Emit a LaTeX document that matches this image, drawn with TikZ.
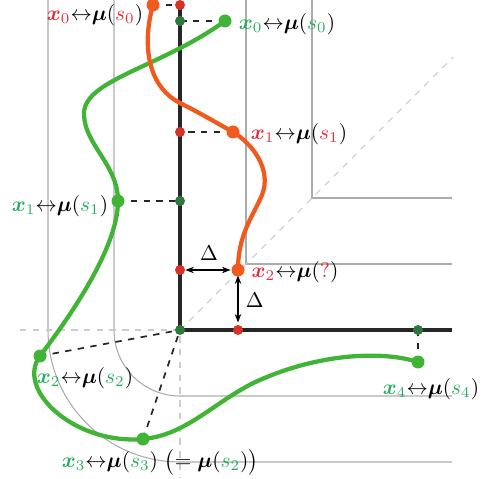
\documentclass[tikz,border=0pt]{standalone}
\usepackage{amsmath,amssymb,bm}
\usepackage{tikz}
\usetikzlibrary{arrows.meta,calc}
\definecolor{curveorange}{RGB}{240,90,30}
\definecolor{curvegreen}{RGB}{65,180,55}
\definecolor{dotred}{RGB}{215,50,35}
\definecolor{dotgreen}{RGB}{45,120,60}
\definecolor{textred}{RGB}{228,45,60}
\definecolor{textgreen}{RGB}{40,172,95}
\newcommand{\pairlbl}[3]{$\textcolor{#1}{\bm{x}_{#2}}{\leftrightarrow}\bm{\mu}(\textcolor{#1}{#3})$}

\begin{document}
\begin{tikzpicture}[x=0.0165cm,y=-0.0165cm,
  contour/.style={gray!65,line width=0.5pt},
  guide/.style={gray!40,dashed,line width=0.5pt},
  link/.style={black!85,dashed,line width=0.8pt},
  axis/.style={black!85,line width=2pt},
  curve/.style={line width=2pt,line cap=round},
  gap/.style={{Stealth[length=4pt]}-{Stealth[length=4pt]},line width=0.7pt,shorten <=2.5pt,shorten >=3.5pt}]
\useasboundingbox (0,0) rectangle (482,478);
% offset contours of the feasible set
\foreach \r in {66,132} {
  \draw[contour] (180-\r,0)--(180-\r,330) arc[start angle=180,end angle=90,radius=\r]--(452,330+\r);
  \draw[contour] (180+\r,0)--(180+\r,330-\r)--(452,330-\r);
}
\coordinate (O) at (180,330);
\draw[guide] (20,330)--(O)--(180,478);
\draw[guide] (O)--(453,57);
\draw[axis] (180,3)--(O)--(452,330);

% points
\coordinate (r0) at (153,5);   \coordinate (a0) at (180,5);
\coordinate (r1) at (233,132); \coordinate (a1) at (180,132);
\coordinate (r2) at (238,270); \coordinate (a2) at (180,270);
\coordinate (a3) at (238,330);
\coordinate (g0) at (225,21);  \coordinate (b0) at (180,21);
\coordinate (g1) at (118,201); \coordinate (b1) at (180,201);
\coordinate (g2) at (40,356);
\coordinate (g3) at (143,439);
\coordinate (g4) at (418,362); \coordinate (b4) at (418,330);

% projections
\draw[link] (r0)--(a0); \draw[link] (r1)--(a1);
\draw[link] (g0)--(b0); \draw[link] (g1)--(b1);
\draw[link] (g2)--(O);  \draw[link] (g3)--(O);
\draw[link] (g4)--(b4);
\draw[gap] (a2)--(r2) node[midway,above=1pt]{$\Delta$};
\draw[gap] (r2)--(a3) node[midway,right=0pt]{$\Delta$};

% trajectories
\draw[curve,curvegreen] (g0) .. controls (160,68) and (82,80) .. (84,115)
  .. controls (85,145) and (118,165) .. (g1)
  .. controls (118,250) and (65,323) .. (g2)
  .. controls (15,390) and (75,445) .. (g3)
  .. controls (190,435) and (220,395) .. (267,377)
  .. controls (320,355) and (380,350) .. (g4);
\draw[curve,curveorange] (r0) .. controls (143,40) and (145,85) .. (180,103)
  .. controls (200,113) and (215,122) .. (r1)
  .. controls (253,144) and (272,170) .. (262,195)
  .. controls (252,218) and (238,235) .. (r2);

% dots
\foreach \p in {r0,r1,r2} \fill[curveorange] (\p) circle (6.5);
\foreach \p in {g0,g1,g2,g3,g4} \fill[curvegreen] (\p) circle (6.5);
\foreach \p in {a0,a1,a2,a3} \fill[dotred] (\p) circle (5);
\foreach \p in {b0,b1,O,b4} \fill[dotgreen] (\p) circle (5);

% labels
\node (lr0) at (95,15) {\pairlbl{textred}{0}{s_0}};
\node (lr1) at (299,134) {\pairlbl{textred}{1}{s_1}};
\node (lr2) at (295,272) {\pairlbl{textred}{2}{?}};
\node (lg0) at (287,24) {\pairlbl{textgreen}{0}{s_0}};
\node (lg1) at (60,206) {\pairlbl{textgreen}{1}{s_1}};
\node (lg2) at (85,378) {\pairlbl{textgreen}{2}{s_2}};
\node (lg4) at (431,389) {\pairlbl{textgreen}{4}{s_4}};
\node (lg3) at (160,462) {\pairlbl{textgreen}{3}{s_3}\ $\bigl(=\bm{\mu}(\textcolor{textgreen}{s_2})\bigr)$};
\end{tikzpicture}
\end{document}
